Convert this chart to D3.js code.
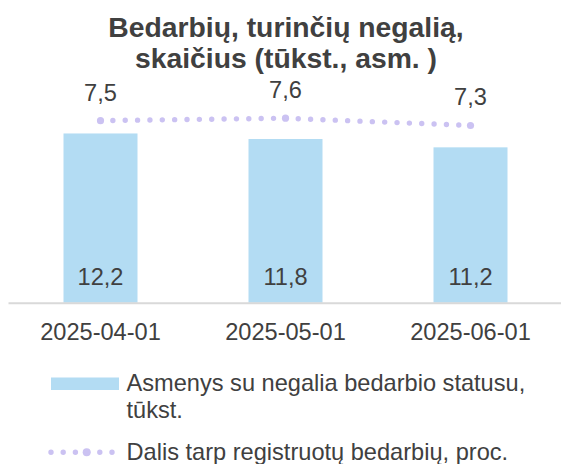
<!DOCTYPE html>
<html>
<head>
<meta charset="utf-8">
<script src="https://cdn.jsdelivr.net/npm/d3@7"></script>
<style>
  html, body { margin: 0; padding: 0; background: #ffffff; }
  svg { display: block; }
  text { font-family: "Liberation Sans", Arial, sans-serif; fill: #404040; }
</style>
</head>
<body>
<svg id="chart" width="561" height="464"></svg>
<script>
const categories = ["2025-04-01", "2025-05-01", "2025-06-01"];
const barValues = [12.2, 11.8, 11.2];
const lineValues = [7.5, 7.6, 7.3];
const barLabels = ["12,2", "11,8", "11,2"];
const lineLabels = ["7,5", "7,6", "7,3"];
const titleLines = ["Bedarbių, turinčių negalią,", "skaičius (tūkst., asm. )"];
const legendBarText = ["Asmenys su negalia bedarbio statusu,", "tūkst."];
const legendLineText = "Dalis tarp registruotų bedarbių, proc.";

const barColor = "#b3dcf3";
const dotColor = "#cbc2f2";
const fs = "23.6px";

const svg = d3.select("#chart");

const x = d3.scaleBand().domain(categories).range([8, 563]).paddingInner(0.6).paddingOuter(0.3);
const yBar = d3.scaleLinear().domain([0, 14]).range([302.7, 108.5]);
const yLine = d3.scaleLinear().domain([0, 8]).range([302.7, 108.5]);

// Title
const title = svg.append("text").attr("text-anchor", "middle")
  .style("font-weight", "bold").style("font-size", "28.3px");
titleLines.forEach((t, i) => {
  title.append("tspan").attr("x", 286).attr("y", 37 + i * 31).text(t);
});

// Bars
svg.selectAll("rect.bar").data(categories).enter().append("rect")
  .attr("class", "bar")
  .attr("x", d => x(d))
  .attr("width", x.bandwidth())
  .attr("y", (d, i) => yBar(barValues[i]))
  .attr("height", (d, i) => yBar(0) - yBar(barValues[i]))
  .attr("fill", barColor);

// Axis
const axis = svg.append("g").attr("transform", `translate(0,${yBar(0)})`)
  .call(d3.axisBottom(x).tickSize(0).tickPadding(0));
axis.select(".domain").attr("stroke", "#d9d9d9").attr("stroke-width", 2);
axis.selectAll("text").attr("dy", null).attr("y", 37)
  .style("font-size", fs).attr("fill", "#404040")
  .style("font-family", "'Liberation Sans', Arial, sans-serif");

// Bar labels
svg.selectAll("text.barlabel").data(categories).enter().append("text")
  .attr("class", "barlabel").attr("text-anchor", "middle")
  .attr("x", d => x(d) + x.bandwidth() / 2)
  .attr("y", yBar(0) - 18)
  .style("font-size", fs)
  .text((d, i) => barLabels[i]);

// Line (dotted)
const cx = d => x(d) + x.bandwidth() / 2;
const line = d3.line().x(d => cx(d)).y((d, i) => yLine(lineValues[i]));
svg.append("path").datum(categories)
  .attr("d", line)
  .attr("fill", "none")
  .attr("stroke", dotColor)
  .attr("stroke-width", 5.4)
  .attr("stroke-linecap", "round")
  .attr("stroke-dasharray", "0 12.36");
svg.selectAll("circle.marker").data(categories).enter().append("circle")
  .attr("class", "marker")
  .attr("cx", d => cx(d))
  .attr("cy", (d, i) => yLine(lineValues[i]))
  .attr("r", 3.6)
  .attr("fill", dotColor);

// Line labels
svg.selectAll("text.linelabel").data(categories).enter().append("text")
  .attr("class", "linelabel").attr("text-anchor", "middle")
  .attr("x", d => cx(d))
  .attr("y", (d, i) => yLine(lineValues[i]) - 20)
  .style("font-size", fs)
  .text((d, i) => lineLabels[i]);

// Legend
svg.append("rect").attr("x", 51).attr("y", 377.5).attr("width", 68).attr("height", 12.5).attr("fill", barColor);
const lt = svg.append("text").style("font-size", fs);
legendBarText.forEach((t, i) => {
  lt.append("tspan").attr("x", 126.5).attr("y", 391 + i * 27).text(t);
});
svg.append("line").attr("x1", 51).attr("x2", 114).attr("y1", 452.3).attr("y2", 452.3)
  .attr("stroke", dotColor).attr("stroke-width", 5.4)
  .attr("stroke-linecap", "round").attr("stroke-dasharray", "0 12.2");
svg.append("circle").attr("cx", 86.7).attr("cy", 452.3).attr("r", 4).attr("fill", dotColor);
svg.append("text").attr("x", 126.5).attr("y", 460).style("font-size", fs).text(legendLineText);
</script>
</body>
</html>
